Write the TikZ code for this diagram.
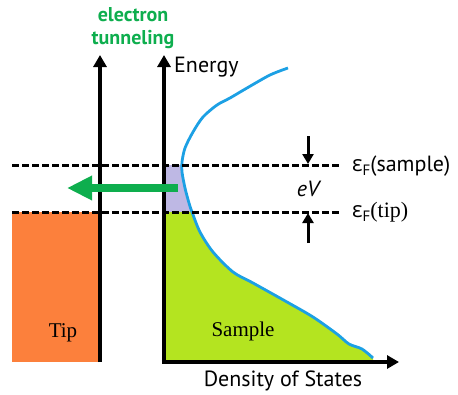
\documentclass[tikz,border=0pt]{standalone}
\usepackage{fontspec}
\setmainfont{PT Sans}
\newfontfamily\serifface{Liberation Serif}
\newfontfamily\greekface{Open Sans}
\usetikzlibrary{arrows.meta}

\definecolor{tiporange}{RGB}{252,128,60}
\definecolor{samplelime}{RGB}{180,228,32}
\definecolor{gaplilac}{RGB}{190,184,228}
\definecolor{dosblue}{RGB}{28,160,228}
\definecolor{tunnelgreen}{RGB}{14,174,78}

\tikzset{
    axis/.style={line width=4.5pt,-{Triangle[length=12pt,width=13pt]}},
    fermi/.style={line width=3pt,dash pattern=on 6.5pt off 3.5pt},
    biasarrow/.style={line width=3pt,-{Triangle[length=10pt,width=11pt]}},
    label/.style={font=\fontsize{22}{24}\selectfont,inner sep=0pt},
}
% density of states of the sample
\def\doscurve{(288,68) (270,75) (247,88) (230,98) (217,105) (203,117)
    (193,132) (185,148) (182,162) (182,172) (185,188) (189,203) (192,212)
    (200,232) (213,252) (233,272) (253,283) (287,302) (313,317) (337,334)
    (349,344) (362,349) (373,358)}

\begin{document}
\begin{tikzpicture}[>=stealth,x=1pt,y=-1pt]
    \useasboundingbox (0,0) rectangle (458,394);

    % filled states
    \fill[tiporange] (12,212) rectangle (98,362);
    \begin{scope}
        \clip (164,165) rectangle (458,212);
        \fill[gaplilac] (164,68) -- plot[smooth,tension=0.5] coordinates {\doscurve}
            -- (373,362) -- (164,362) -- cycle;
    \end{scope}
    \begin{scope}
        \clip (164,212) rectangle (458,362);
        \fill[samplelime] (164,68) -- plot[smooth,tension=0.5] coordinates {\doscurve}
            -- (373,362) -- (164,362) -- cycle;
    \end{scope}
    \draw[dosblue,line width=2.8pt,line join=round]
        plot[smooth,tension=0.5] coordinates {\doscurve};

    % axes
    \coordinate (tipbase) at (100,362);
    \coordinate (tiptop) at (100,55);
    \coordinate (origin) at (164,362);
    \coordinate (etop) at (164,55);
    \coordinate (dosend) at (399,362);
    \draw[axis] (tipbase) -- (tiptop);
    \draw[axis] (origin) -- (etop);
    \draw[axis] ([xshift=-2.25pt]origin) -- (dosend);

    % Fermi levels
    \coordinate (fsl) at (12,165);
    \coordinate (fsr) at (341,165);
    \coordinate (ftl) at (12,212);
    \coordinate (ftr) at (341,212);
    \draw[fermi] (fsl) -- (fsr);
    \draw[fermi] (ftl) -- (ftr);

    % tunneling arrow
    \coordinate (tunfrom) at (178,188);
    \coordinate (tunto) at (67,188);
    \draw[tunnelgreen,line width=7.5pt,-{Triangle[length=25pt,width=23pt]}]
        (tunfrom) -- (tunto);

    % bias arrows
    \coordinate (downtop) at (308,136);
    \coordinate (downend) at (308,164);
    \coordinate (upbot) at (308,243);
    \coordinate (upend) at (308,213);
    \draw[biasarrow] (downtop) -- (downend);
    \draw[biasarrow] (upbot) -- (upend);

    % labels
    \node[label,font=\fontsize{20}{23}\selectfont\bfseries,text=tunnelgreen,
        align=center] (tunnel) at (133,28) {electron\\tunneling};
    \node[label,anchor=west] (energy) at (174,67) {Energy};
    \node[label] (dos) at (283,381) {Density of States};
    \node[label,font=\fontsize{22}{24}\selectfont\itshape] (ev) at (308,189) {eV};
    \node[label,anchor=west] (efsample) at (352,166)
        {{\greekface ε}\raisebox{-4.5pt}{\fontsize{15}{15}\selectfont F}(sample)};
    \node[label,anchor=west] (eftip) at (352,212)
        {{\greekface ε}\raisebox{-4.5pt}{\fontsize{15}{15}\selectfont F}{\serifface(tip)}};
    \node[label,font=\fontsize{21}{22}\serifface] (tip) at (63,333) {Tip};
    \node[label,font=\fontsize{21}{22}\serifface] (sample) at (243,331) {Sample};
\end{tikzpicture}
\end{document}
